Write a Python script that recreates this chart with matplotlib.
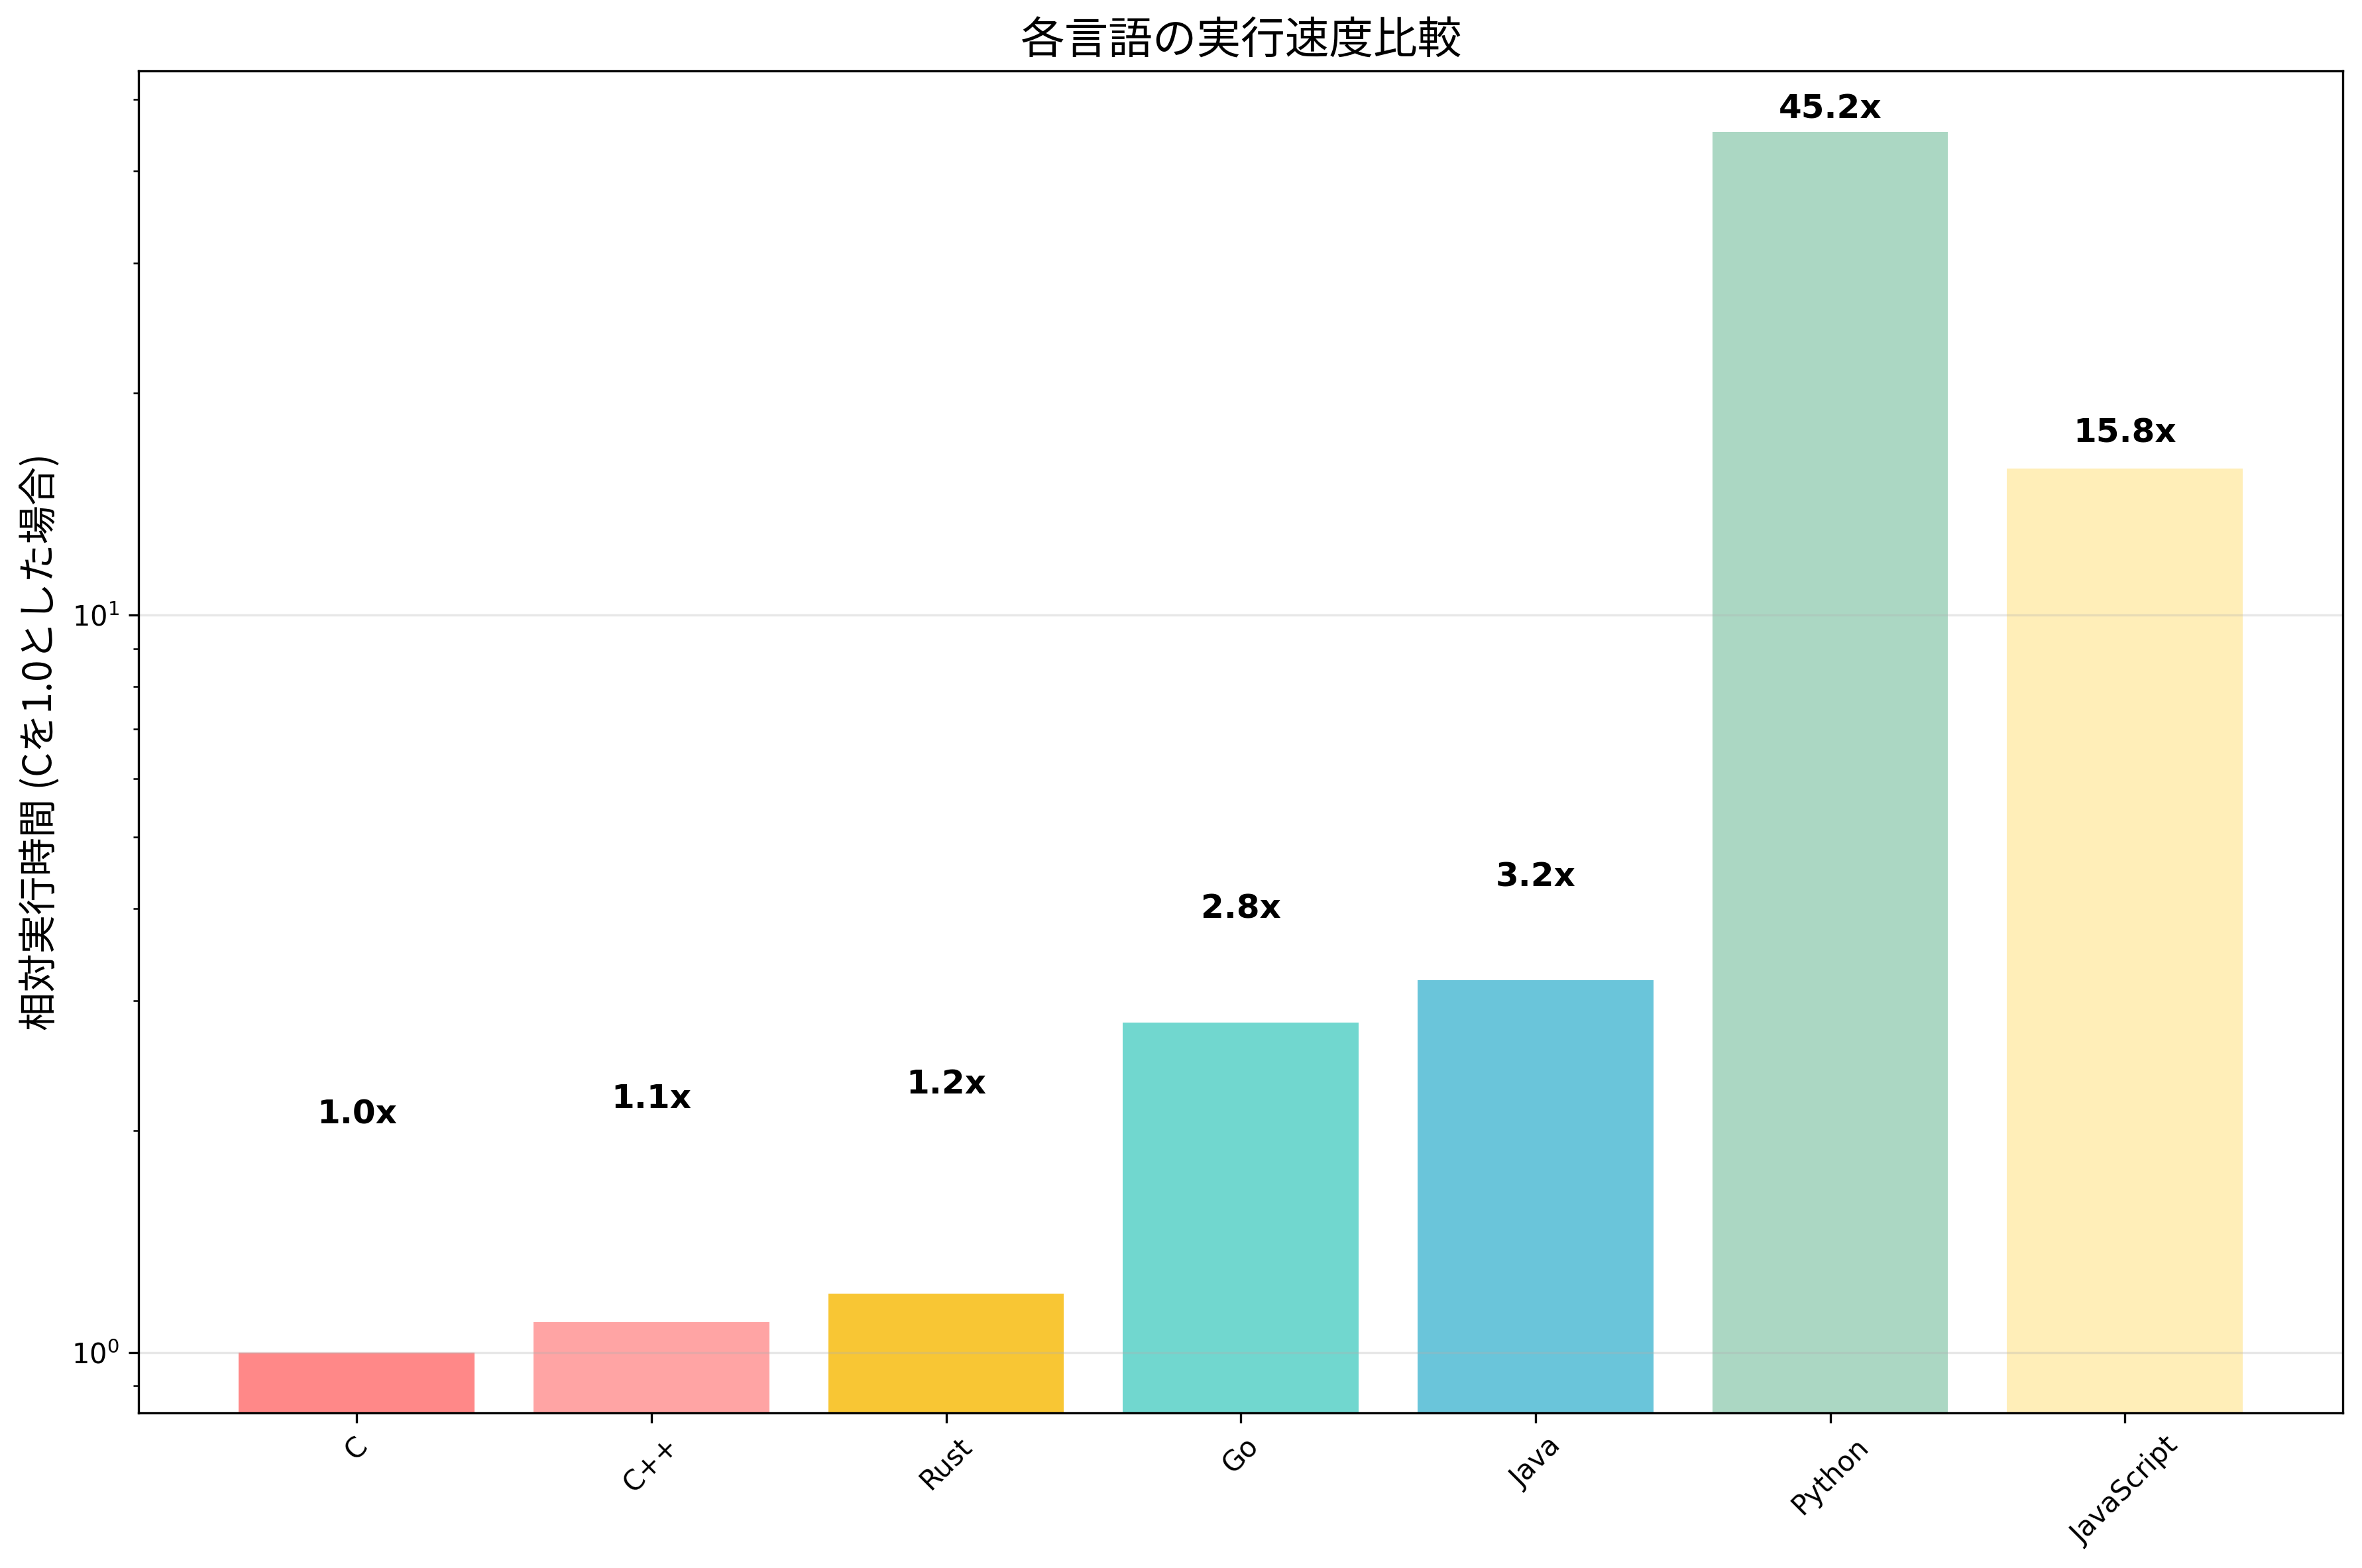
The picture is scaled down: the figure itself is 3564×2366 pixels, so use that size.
import numpy as np
import matplotlib
matplotlib.use("Agg")
import matplotlib.pyplot as plt

jp_font = ['Noto Sans CJK JP', 'DejaVu Sans']

# data
languages = ['C', 'C++', 'Rust', 'Go', 'Java', 'Python', 'JavaScript']
relative_time = [1.0, 1.1, 1.2, 2.8, 3.2, 45.2, 15.8]
colors = ['#FF6B6B', '#FF8E8E', '#F7B801', '#4ECDC4', '#45B7D1', '#96CEB4', '#FFEAA7']

fig, ax = plt.subplots(figsize=(11.883, 7.887), dpi=300)

x = np.arange(len(languages))
bars = ax.bar(x, relative_time, color=colors, alpha=0.8)
ax.set_yscale('log')

for bar, val in zip(bars, relative_time):
    ax.text(bar.get_x() + bar.get_width() / 2, val + 1, f'{val:.1f}x',
            ha='center', va='bottom', fontweight='bold', fontsize=12)

ax.set_xticks(x)
ax.set_xticklabels(languages, rotation=45)
ax.set_ylabel('相対実行時間 (Cを1.0とした場合)', fontsize=14, family=jp_font)
ax.set_title('各言語の実行速度比較', fontsize=16, family=jp_font)
ax.set_ylim(0.828, 54.7)
ax.grid(True, axis='y', alpha=0.3)

fig.subplots_adjust(left=0.0587, right=0.9917, top=0.9548, bottom=0.099)
plt.savefig('out.png', dpi=300)
